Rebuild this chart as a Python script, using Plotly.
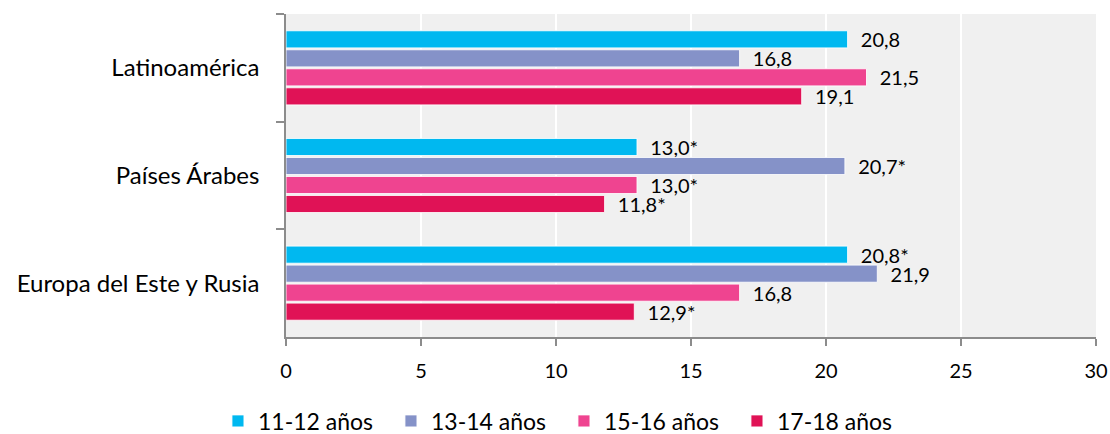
import plotly.graph_objects as go

# Regions (top to bottom) and age groups
regions = ["Latinoamérica", "Países Árabes", "Europa del Este y Rusia"]
age_groups = ["11-12 años", "13-14 años", "15-16 años", "17-18 años"]

# Percentages per age group, one value per region
values_11_12 = [20.8, 13.0, 20.8]
values_13_14 = [16.8, 20.7, 21.9]
values_15_16 = [21.5, 13.0, 16.8]
values_17_18 = [19.1, 11.8, 12.9]

# Asterisk flags for each value (same layout as the value lists)
flags_11_12 = ["", "*", "*"]
flags_13_14 = ["", "*", ""]
flags_15_16 = ["", "*", ""]
flags_17_18 = ["", "*", "*"]

series = [values_11_12, values_13_14, values_15_16, values_17_18]
flags = [flags_11_12, flags_13_14, flags_15_16, flags_17_18]
colors = ["#00B8F0", "#8592C8", "#EF4490", "#E01256"]

FONT = "Lato"
PAD = "\u00a0\u00a0"


def label(v, f):
    return PAD + f"{v:.1f}".replace(".", ",") + f


fig = go.Figure()
for name, vals, fl, col in zip(age_groups, series, flags, colors):
    fig.add_trace(go.Bar(
        y=regions,
        x=vals,
        name=name,
        orientation="h",
        marker=dict(color=col, line=dict(color="rgba(255,255,255,0.85)", width=1)),
        text=[label(v, f) for v, f in zip(vals, fl)],
        textposition="outside",
        textfont=dict(family=FONT, size=20, color="#000000"),
        constraintext="none",
        cliponaxis=False,
    ))

axis_grey = "#8C8C8C"

fig.update_layout(
    width=1110,
    height=434,
    margin=dict(l=286, r=14, t=14, b=97, autoexpand=False),
    paper_bgcolor="white",
    plot_bgcolor="#F0F0F0",
    barmode="group",
    bargap=0.294,
    bargroupgap=0.1,
    font=dict(family=FONT, color="#000000"),
    showlegend=True,
    legend=dict(
        orientation="h",
        x=-0.084,
        xanchor="left",
        y=-0.26,
        yanchor="middle",
        font=dict(family=FONT, size=23, color="#000000"),
        entrywidth=128,
        entrywidthmode="pixels",
        bgcolor="rgba(0,0,0,0)",
        traceorder="normal",
    ),
    xaxis=dict(
        range=[0, 30],
        dtick=5,
        tick0=0,
        showgrid=True,
        gridcolor="white",
        gridwidth=2,
        zeroline=False,
        showline=True,
        linecolor=axis_grey,
        linewidth=1.5,
        ticks="outside",
        ticklen=7,
        tickcolor=axis_grey,
        tickwidth=1.5,
        tickfont=dict(family=FONT, size=20, color="#000000"),
        ticklabelstandoff=8,
    ),
    yaxis=dict(
        type="category",
        categoryorder="array",
        categoryarray=regions,
        autorange="reversed",
        tickson="boundaries",
        showgrid=False,
        zeroline=False,
        showline=True,
        linecolor=axis_grey,
        linewidth=1.5,
        ticks="outside",
        ticklen=8,
        tickcolor=axis_grey,
        tickwidth=1.5,
        tickfont=dict(family=FONT, size=24, color="#000000"),
        ticklabelstandoff=20,
    ),
)

fig.write_html("out.html")
